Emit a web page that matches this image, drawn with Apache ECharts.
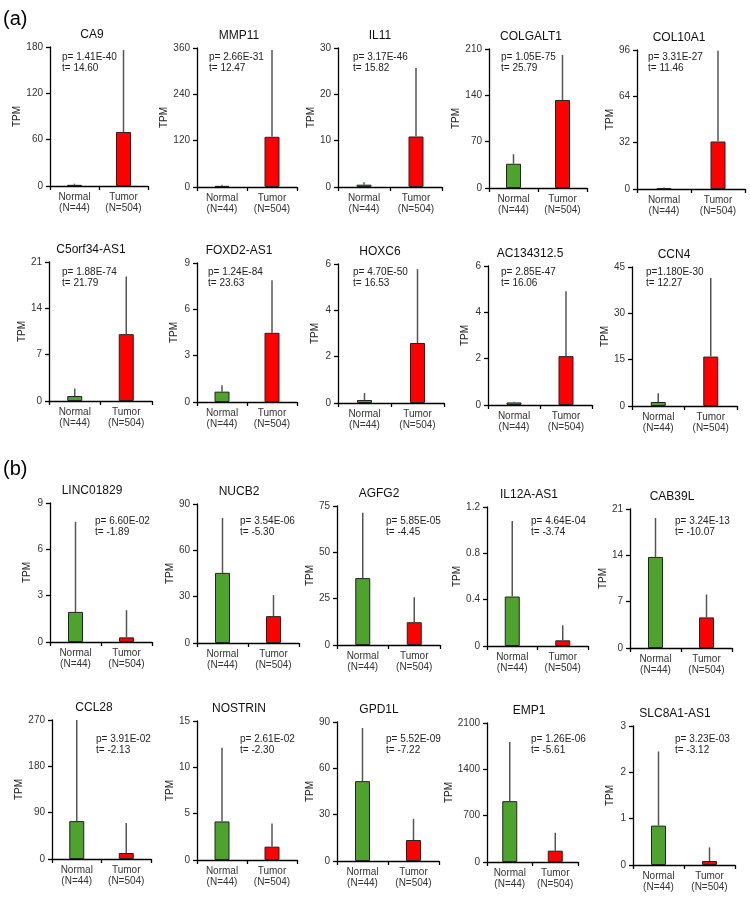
<!DOCTYPE html>
<html>
<head>
	<meta charset="UTF-8">
	<script type="text/javascript" src="https://cdn.jsdelivr.net/npm/echarts@6/dist/echarts.min.js"></script>
	<title></title>
	<style type="text/css">
		body{ margin:0; background:#fff; }
		#box{ width:750px; height:902px; }
	</style>
</head>
<body>
<div id="box"></div>
<script type="text/javascript">
// 数据
var genes = ['CA9','MMP11','IL11','COLGALT1','COL10A1',
	'C5orf34-AS1','FOXD2-AS1','HOXC6','AC134312.5','CCN4',
	'LINC01829','NUCB2','AGFG2','IL12A-AS1','CAB39L',
	'CCL28','NOSTRIN','GPD1L','EMP1','SLC8A1-AS1'];
var categories = ['Normal\n(N=44)','Tumor\n(N=504)'];
var yMax = [180,360,30,210,96, 21,9,6,6,45, 9,90,75,1.2,21, 270,15,90,2100,3];
var normalMean = [1.5,3,0.5,36.6,0.5, 0.75,0.67,0.13,0.11,1.3, 1.95,45.4,36.1,0.427,13.76, 73.6,4.16,51.7,919,0.85];
var normalTop  = [3,6,1.0,51,1.0, 1.9,1.08,0.43,0.14,4.1, 7.78,81,71.4,1.08,19.65, 270,12.1,86.1,1813,2.45];
var tumorMean  = [70,130,10.9,133,32.8, 10.1,4.48,2.59,2.11,16.0, 0.30,17.4,12.3,0.049,4.62, 11.6,1.44,13.6,171,0.086];
var tumorTop   = [176,355,25.7,201,95.5, 18.8,7.88,5.78,4.91,41.4, 2.06,31,25.8,0.18,8.09, 69.8,3.95,27.3,442,0.38];
var pText = ['p= 1.41E-40','p= 2.66E-31','p= 3.17E-46','p= 1.05E-75','p= 3.31E-27',
	'p= 1.88E-74','p= 1.24E-84','p= 4.70E-50','p= 2.85E-47','p=1.180E-30',
	'p= 6.60E-02','p= 3.54E-06','p= 5.85E-05','p= 4.64E-04','p= 3.24E-13',
	'p= 3.91E-02','p= 2.61E-02','p= 5.52E-09','p= 1.26E-06','p= 3.23E-03'];
var tText = ['t= 14.60','t= 12.47','t= 15.82','t= 25.79','t= 11.46',
	't= 21.79','t= 23.63','t= 16.53','t= 16.06','t= 12.27',
	't= -1.89','t= -5.30','t= -4.45','t= -3.74','t= -10.07',
	't= -2.13','t= -2.30','t= -7.22','t= -5.61','t= -3.12'];

// 布局
var axisLeft = [50,197,338,489,637, 49,197,338,488,632, 50,197,337,487,630, 52,197,337,487,633];
var axisTop = [47,48,48,49,50, 262,263,264,266,267, 503,504,506,507,509, 720,721,722,723,726];
var axisWidth = [98,100,104,98,108, 103,100,106,104,105, 102,102,103,101,102, 99,100,102,91,102];
var statX = [62,209,353,501,648, 62,208,353,501,646, 95,240,386,531,675, 96,240,386,531,675];
var statY = [57,272,521,739];
var plotH = 139;
var green = '#4ea32e', red = '#ff0000';

var grids = [], xAxes = [], yAxes = [], series = [], graphics = [];
graphics.push({type:'text', left:3, top:9, style:{text:'(a)', font:'20px Arial', fill:'#000'}});
graphics.push({type:'text', left:3, top:459, style:{text:'(b)', font:'20px Arial', fill:'#000'}});

for (var i = 0; i < genes.length; i++) {
	grids.push({left:axisLeft[i], top:axisTop[i], width:axisWidth[i], height:plotH});
	xAxes.push({
		gridIndex:i, type:'category', data:categories,
		axisLine:{lineStyle:{color:'#000', width:1.3}},
		axisTick:{show:true, interval:0, length:4, lineStyle:{color:'#000', width:1.3}},
		axisLabel:{interval:0, margin:5, fontSize:10, lineHeight:11.5, color:'#333', fontFamily:'Arial'}
	});
	yAxes.push({
		gridIndex:i, type:'value', min:0, max:yMax[i], interval:yMax[i]/3,
		name:'TPM', nameLocation:'middle', nameRotate:90, nameGap:18,
		nameTextStyle:{fontSize:10, color:'#222', fontFamily:'Arial'},
		axisLine:{show:true, lineStyle:{color:'#000', width:1.3}},
		axisTick:{show:true, length:4, lineStyle:{color:'#000', width:1.3}},
		axisLabel:{show:true, margin:7, fontSize:10, color:'#333', fontFamily:'Arial',
			formatter:function(v){ return String(+v.toFixed(2)); }},
		splitLine:{show:false}
	});
	series.push({
		type:'bar', xAxisIndex:i, yAxisIndex:i, barWidth:15,
		itemStyle:{borderColor:'#222', borderWidth:1},
		data:[{value:normalMean[i], itemStyle:{color:green}}, {value:tumorMean[i], itemStyle:{color:red}}]
	});
	// 误差线
	series.push({
		type:'custom', xAxisIndex:i, yAxisIndex:i, z:3,
		data:[[0, normalMean[i], normalTop[i]], [1, tumorMean[i], tumorTop[i]]],
		renderItem:function(params, api){
			var p0 = api.coord([api.value(0), api.value(1)]);
			var p1 = api.coord([api.value(0), api.value(2)]);
			return {type:'line', shape:{x1:p0[0], y1:p0[1], x2:p1[0], y2:p1[1]},
				style:{stroke:'#555', lineWidth:1.5}};
		}
	});
	graphics.push({type:'text', x:axisLeft[i]+42, y:axisTop[i]-12,
		style:{text:genes[i], font:'12px Arial', fill:'#111', textAlign:'center', textVerticalAlign:'middle'}});
	var sy = statY[Math.floor(i/5)];
	graphics.push({type:'text', x:statX[i], y:sy,
		style:{text:pText[i], font:'10px Arial', fill:'#222', textVerticalAlign:'middle'}});
	graphics.push({type:'text', x:statX[i], y:sy+11.5,
		style:{text:tText[i], font:'10px Arial', fill:'#222', textVerticalAlign:'middle'}});
}

var chart = echarts.init(document.getElementById('box'));
chart.setOption({
	animation:false,
	grid:grids, xAxis:xAxes, yAxis:yAxes, series:series, graphic:graphics
});
</script>
</body>
</html>
